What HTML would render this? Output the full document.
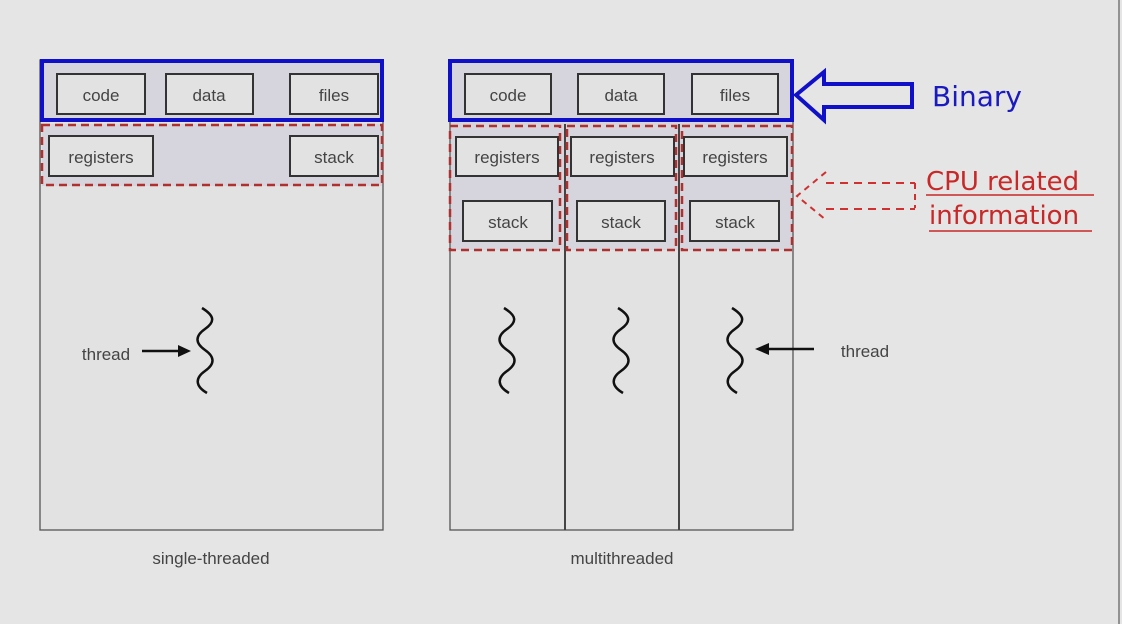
<!DOCTYPE html>
<html><head><style>
html,body{margin:0;padding:0;background:#e5e5e5;}
svg{display:block;}
text{font-family:"Liberation Sans",sans-serif;}
.hand{font-family:"Comic Sans MS","DejaVu Sans",sans-serif;}
</style></head><body>
<svg width="1122" height="624" viewBox="0 0 1122 624">
<defs>
<path id="sq" d="M-3,0 C10,8 10,14 0,21 C-10,28 -10,35 0,42 C10,49 10,56 0,63 C-10,70 -10,78 2,85" fill="none" stroke="#111" stroke-width="2.5"/>
</defs>
<rect width="1122" height="624" fill="#e5e5e5"/>
<line x1="1119" y1="0" x2="1119" y2="624" stroke="#777" stroke-width="1.5"/>

<!-- LEFT -->
<rect x="40" y="60" width="343" height="470" fill="#e2e2e2" stroke="#555" stroke-width="1.3"/>
<rect x="42" y="61" width="340" height="60" fill="#d6d4dc"/>
<rect x="42" y="124" width="340" height="62" fill="#d6d4dc"/>
<rect x="42" y="61" width="340" height="59" fill="none" stroke="#1010c8" stroke-width="4"/>
<rect x="42" y="125" width="340" height="60" fill="none" stroke="#b03030" stroke-width="2.5" stroke-dasharray="8,5"/>
<g fill="#e2e2e2" stroke="#333" stroke-width="2">
<rect x="57" y="74" width="88" height="40"/><rect x="166" y="74" width="87" height="40"/><rect x="290" y="74" width="88" height="40"/>
<rect x="49" y="136" width="104" height="40"/><rect x="290" y="136" width="88" height="40"/>
</g>
<g font-size="17" fill="#444" text-anchor="middle">
<text x="101" y="101">code</text><text x="209" y="101">data</text><text x="334" y="101">files</text>
<text x="101" y="163">registers</text><text x="334" y="163">stack</text>
<text x="106" y="360">thread</text>
<text x="211" y="564">single-threaded</text>
</g>
<use href="#sq" x="205" y="308"/>
<line x1="142" y1="351" x2="180" y2="351" stroke="#111" stroke-width="2.5"/>
<polygon points="191,351 178,345 178,357" fill="#111"/>

<!-- RIGHT -->
<rect x="450" y="60" width="343" height="470" fill="#e2e2e2" stroke="#555" stroke-width="1.3"/>
<rect x="451" y="61" width="341" height="189" fill="#d6d4dc"/>
<rect x="451" y="250" width="341" height="0"/>
<line x1="565" y1="124" x2="565" y2="530" stroke="#444" stroke-width="2"/>
<line x1="679" y1="124" x2="679" y2="530" stroke="#444" stroke-width="2"/>
<rect x="450" y="61" width="342" height="59" fill="none" stroke="#1010c8" stroke-width="4"/>
<g fill="none" stroke="#b03030" stroke-width="2.5" stroke-dasharray="8,5">
<rect x="450" y="126" width="110" height="124"/><rect x="567" y="126" width="109" height="124"/><rect x="682" y="126" width="110" height="124"/>
</g>
<g fill="#e2e2e2" stroke="#333" stroke-width="2">
<rect x="465" y="74" width="86" height="40"/><rect x="578" y="74" width="86" height="40"/><rect x="692" y="74" width="86" height="40"/>
<rect x="456" y="137" width="102" height="39"/><rect x="571" y="137" width="103" height="39"/><rect x="684" y="137" width="103" height="39"/>
<rect x="463" y="201" width="89" height="40"/><rect x="577" y="201" width="88" height="40"/><rect x="690" y="201" width="89" height="40"/>
</g>
<g font-size="17" fill="#444" text-anchor="middle">
<text x="508" y="101">code</text><text x="621" y="101">data</text><text x="735" y="101">files</text>
<text x="507" y="163">registers</text><text x="622" y="163">registers</text><text x="735" y="163">registers</text>
<text x="508" y="228">stack</text><text x="621" y="228">stack</text><text x="735" y="228">stack</text>
<text x="865" y="357">thread</text>
<text x="622" y="564">multithreaded</text>
</g>
<use href="#sq" x="507" y="308"/>
<use href="#sq" x="621" y="308"/>
<use href="#sq" x="735" y="308"/>
<line x1="768" y1="349" x2="814" y2="349" stroke="#111" stroke-width="2.5"/>
<polygon points="755,349 769,343 769,355" fill="#111"/>

<!-- Binary arrow -->
<polygon points="796,95 824,72 824,84 912,84 912,107 824,107 824,120" fill="none" stroke="#1010c8" stroke-width="4"/>
<text x="932" y="106" font-size="28" fill="#1a1ac0" class="hand">Binary</text>
<!-- CPU arrow -->
<polyline points="915,183 915,208" fill="none" stroke="#d03030" stroke-width="2" stroke-dasharray="6,5"/>
<polyline points="826,172 797,196 826,220" fill="none" stroke="#d03030" stroke-width="2" stroke-dasharray="6,5"/>
<line x1="826" y1="183" x2="915" y2="183" stroke="#d03030" stroke-width="2" stroke-dasharray="8,6"/>
<line x1="826" y1="209" x2="915" y2="209" stroke="#d03030" stroke-width="2" stroke-dasharray="8,6"/>
<text x="926" y="190" font-size="26" fill="#c82828" class="hand">CPU related</text>
<line x1="926" y1="195" x2="1094" y2="195" stroke="#c82828" stroke-width="1.5"/>
<text x="929" y="224" font-size="26" fill="#c82828" class="hand">information</text>
<line x1="929" y1="231" x2="1092" y2="231" stroke="#c82828" stroke-width="1.5"/>
</svg>
</body></html>
